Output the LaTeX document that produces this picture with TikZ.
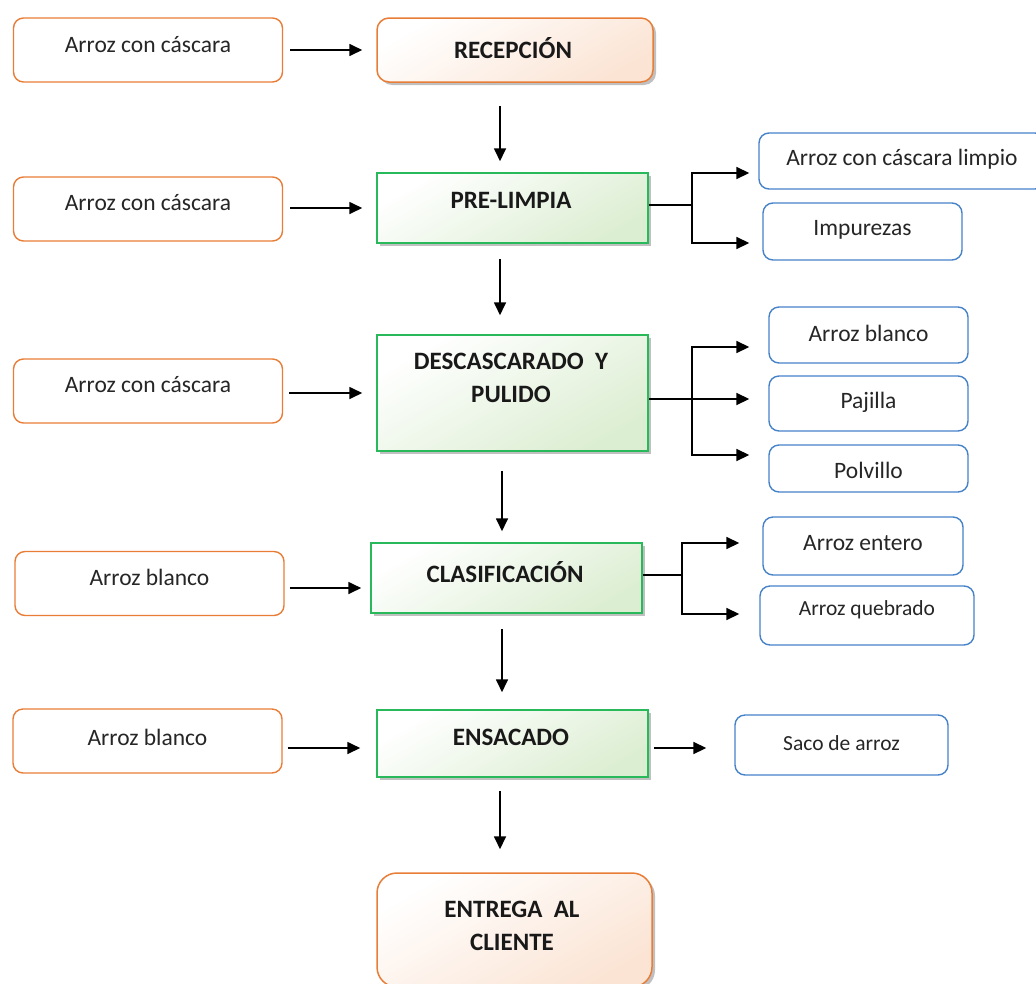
\documentclass[tikz,border=0pt]{standalone}
\usepackage{fontspec}
\setmainfont{Carlito}
\usetikzlibrary{arrows.meta,shadows}
\definecolor{orng}{RGB}{232,125,55}
\definecolor{peach}{RGB}{251,228,212}
\definecolor{grn}{RGB}{40,185,90}
\definecolor{grnf}{RGB}{220,238,210}
\definecolor{blu}{RGB}{70,130,200}
\begin{document}
\begin{tikzpicture}[x=1pt,y=-1pt,
  inbox/.style={draw=orng, line width=1.4pt, rounded corners=10pt, fill=white, minimum width=269pt, minimum height=64pt, inner sep=0pt},
  outbox/.style={draw=blu, line width=1.4pt, rounded corners=10pt, fill=white, inner sep=0pt},
  proc/.style={draw=grn, line width=1.5pt, inner sep=0pt, top color=white, bottom color=grnf, shading angle=30,
    drop shadow={shadow xshift=3pt, shadow yshift=-3pt, opacity=0.35, fill=black!70}},
  term/.style={draw=orng, line width=1.5pt, inner sep=0pt, top color=white, bottom color=peach, shading angle=30,
    drop shadow={shadow xshift=3pt, shadow yshift=-3pt, opacity=0.35, fill=black!70}},
  txt/.style={font=\fontsize{23.5}{28}\selectfont, text=black!85, inner sep=0pt, align=center},
  stxt/.style={font=\fontsize{21.5}{26}\selectfont, text=black!85, inner sep=0pt, align=center},
  btxt/.style={font=\fontsize{25}{33}\selectfont\bfseries, text=black!90, inner sep=0pt, align=center},
  arr/.style={-{Triangle[length=13pt,width=12pt]}, line width=1.7pt},
  ln/.style={line width=1.7pt}
]
\useasboundingbox (0,0) rectangle (1036,983);
\fill[white] (0,0) rectangle (1036,983);
\clip (0,0) rectangle (1036,983);

% input boxes
\node[inbox] (i1) at (148,50) {};
\node[inbox] (i2) at (148,209) {};
\node[inbox] (i3) at (148,391) {};
\node[inbox] (i4) at (149.5,583.5) {};
\node[inbox] (i5) at (147.5,741) {};
\node[txt] (t1) at (148,45) {Arroz con cáscara};
\node[txt] (t2) at (148,203) {Arroz con cáscara};
\node[txt] (t3) at (148,385) {Arroz con cáscara};
\node[txt] (t4) at (149.5,577) {Arroz blanco};
\node[txt] (t5) at (147.5,737) {Arroz blanco};

% process boxes
\node[term, rounded corners=12pt, minimum width=276pt, minimum height=64pt] (rec) at (515,50) {};
\node[proc, minimum width=271pt, minimum height=70pt] (pl) at (512.5,208) {};
\node[proc, minimum width=271pt, minimum height=116pt] (dp) at (512.5,393) {};
\node[proc, minimum width=271pt, minimum height=70pt] (cl) at (506.5,578) {};
\node[proc, minimum width=271pt, minimum height=67pt] (en) at (512.5,743.5) {};
\node[term, rounded corners=20pt, minimum width=275pt, minimum height=114pt] (ent) at (514.5,930) {};
\node[btxt] (trec) at (513,48) {RECEPCIÓN};
\node[btxt] (tpl) at (511,200) {PRE-LIMPIA};
\node[btxt] (tdp) at (511,378) {DESCASCARADO \ Y\\PULIDO};
\node[btxt] (tcl) at (505,572) {CLASIFICACIÓN};
\node[btxt] (ten) at (511,737) {ENSACADO};
\node[btxt] (tent) at (512,926) {ENTREGA \ AL\\CLIENTE};

% output boxes
\node[outbox, minimum width=286pt, minimum height=56pt] (o1) at (902,161) {};
\node[outbox, minimum width=199pt, minimum height=57pt] (o2) at (862.5,231.5) {};
\node[outbox, minimum width=199pt, minimum height=56pt] (o3) at (868.5,335) {};
\node[outbox, minimum width=199pt, minimum height=55pt] (o4) at (868.5,403.5) {};
\node[outbox, minimum width=199pt, minimum height=47pt] (o5) at (868.5,468.5) {};
\node[outbox, minimum width=200pt, minimum height=58pt] (o6) at (863,546) {};
\node[outbox, minimum width=214pt, minimum height=59pt] (o7) at (867,615.5) {};
\node[outbox, minimum width=213pt, minimum height=60pt] (o8) at (841.5,745) {};
\node[txt] (to1) at (902,159) {Arroz con cáscara limpio};
\node[txt] (to2) at (862.5,230) {Impurezas};
\node[txt] (to3) at (868.5,333) {Arroz blanco};
\node[txt] (to4) at (868.5,402) {Pajilla};
\node[txt] (to5) at (868.5,470) {Polvillo};
\node[txt] (to6) at (863,543) {Arroz entero};
\node[stxt] (to7) at (867,610) {Arroz quebrado};
\node[stxt] (to8) at (841.5,743) {Saco de arroz};

% left arrows
\coordinate (a1) at (290,50);
\coordinate (a2) at (290,208);
\coordinate (a3) at (290,393);
\coordinate (a4) at (290,588);
\coordinate (a5) at (290,748);
\draw[arr, shorten <=7pt, shorten >=14pt] (i1.east |- a1) -- (rec.west |- a1);
\draw[arr, shorten <=7pt, shorten >=14pt] (i2.east |- a2) -- (pl.west |- a2);
\draw[arr, shorten <=6pt, shorten >=14pt] (i3.east |- a3) -- (dp.west |- a3);
\draw[arr, shorten <=5pt, shorten >=9pt] (i4.east |- a4) -- (cl.west |- a4);
\draw[arr, shorten <=5pt, shorten >=16pt] (i5.east |- a5) -- (en.west |- a5);

% vertical arrows
\coordinate (v1) at (500,0);
\coordinate (v2) at (502,0);
\draw[arr, shorten <=23pt, shorten >=11pt] (rec.south -| v1) -- (pl.north -| v1);
\draw[arr, shorten <=15pt, shorten >=19pt] (pl.south -| v1) -- (dp.north -| v1);
\draw[arr, shorten <=19pt, shorten >=11pt] (dp.south -| v2) -- (cl.north -| v2);
\draw[arr, shorten <=15pt, shorten >=17pt] (cl.south -| v2) -- (en.north -| v2);
\draw[arr, shorten <=13pt, shorten >=23pt] (en.south -| v1) -- (ent.north -| v1);

% branches: pre-limpia
\coordinate (b1) at (692,205);
\coordinate (b1t) at (692,173);
\coordinate (b1b) at (692,243);
\draw[arr, shorten >=9pt] (pl.east |- b1) -| (b1t) -- (o1.west |- b1t);
\draw[arr, shorten >=13pt] (b1) |- (o2.west |- b1b);

% branches: descascarado
\coordinate (b2) at (692,399);
\coordinate (b2t) at (692,347);
\coordinate (b2b) at (692,455);
\draw[arr, shorten >=19pt] (dp.east |- b2) -| (b2t) -- (o3.west |- b2t);
\draw[arr, shorten >=19pt] (b2) -- (o4.west |- b2);
\draw[arr, shorten >=19pt] (b2) |- (o5.west |- b2b);

% branches: clasificacion
\coordinate (b3) at (682,575);
\coordinate (b3t) at (682,543);
\coordinate (b3b) at (682,614);
\draw[arr, shorten >=23pt] (cl.east |- b3) -| (b3t) -- (o6.west |- b3t);
\draw[arr, shorten >=20pt] (b3) |- (o7.west |- b3b);

% ensacado
\coordinate (b4) at (653,748);
\draw[arr, shorten <=5pt, shorten >=28pt] (en.east |- b4) -- (o8.west |- b4);
\end{tikzpicture}
\end{document}
